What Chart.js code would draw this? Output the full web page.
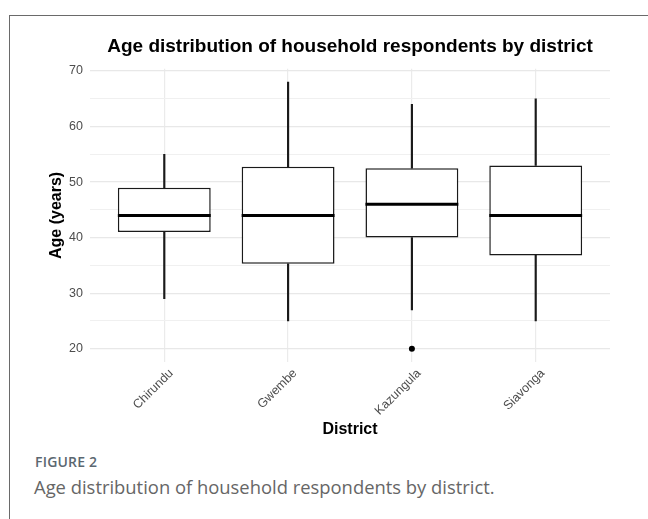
<!DOCTYPE html>
<html>
<head>
<meta charset="utf-8">
<script src="https://cdn.jsdelivr.net/npm/chart.js@4/dist/chart.umd.min.js"></script>
<style>
  html, body { margin: 0; padding: 0; background: #fff; }
  #wrap { position: relative; width: 648px; height: 519px; overflow: hidden; }
  #frame { position: absolute; left: 9px; top: 15px; right: -4px; bottom: -4px;
           border-left: 1.5px solid #6a6a6a; border-top: 1.5px solid #6a6a6a; }
  #c { position: absolute; left: 0; top: 0; }
  .fig { position: absolute; left: 35px; top: 452px; font-family: 'Open Sans', sans-serif;
         font-weight: 600; font-size: 14px; color: #5b6770; letter-spacing: 0.2px; }
  .cap { position: absolute; left: 34px; top: 474px; font-family: 'Open Sans', sans-serif;
         font-size: 18.4px; color: #666; }
</style>
</head>
<body>
<div id="wrap">
  <div id="frame"></div>
  <canvas id="c" width="648" height="450"></canvas>
  <div class="fig">FIGURE 2</div>
  <div class="cap">Age distribution of household respondents by district.</div>
</div>
<script>
// Box-plot summaries per district (age in years)
const districts = ['Chirundu', 'Gwembe', 'Kazungula', 'Siavonga'];
const whiskerLow = [29, 25, 27, 25];
const q1 = [41, 35.3, 40, 36.8];
const median = [44, 44, 46, 44];
const q3 = [49, 52.75, 52.5, 53];
const whiskerHigh = [55, 68, 64, 65];
const outlierDistrict = ['Kazungula'];
const outlierAge = [20];
const yTicks = [20, 25, 30, 35, 40, 45, 50, 55, 60, 65, 70];

const font = 'Liberation Sans, Arial, Helvetica, sans-serif';

// Thick median line across each box, positioned from the y scale
const medianLines = {
  id: 'medianLines',
  afterDatasetsDraw(chart) {
    const meta = chart.getDatasetMeta(0);
    const y = chart.scales.y;
    const ctx = chart.ctx;
    ctx.save();
    ctx.strokeStyle = '#000';
    ctx.lineWidth = 3;
    meta.data.forEach((bar, i) => {
      const py = y.getPixelForValue(median[i]);
      ctx.beginPath();
      ctx.moveTo(bar.x - bar.width / 2, py);
      ctx.lineTo(bar.x + bar.width / 2, py);
      ctx.stroke();
    });
    ctx.restore();
  }
};

const boxData = districts.map((d, i) => ({ x: i, y: [q1[i], q3[i]] }));
const upperWhisker = districts.map((d, i) => ({ x: i, y: [q3[i], whiskerHigh[i]] }));
const lowerWhisker = districts.map((d, i) => ({ x: i, y: [whiskerLow[i], q1[i]] }));
const outliers = outlierDistrict.map((d, i) => ({ x: districts.indexOf(d), y: outlierAge[i] }));

new Chart(document.getElementById('c'), {
  type: 'bar',
  data: {
    datasets: [
      { data: boxData, stack: 'box', backgroundColor: '#fff', borderColor: '#1a1a1a',
        borderWidth: 1.5, borderSkipped: false, barPercentage: 0.75, categoryPercentage: 1, order: 1 },
      { data: upperWhisker, stack: 'box', backgroundColor: '#1a1a1a', borderWidth: 0,
        barThickness: 1.5, order: 2 },
      { data: lowerWhisker, stack: 'box', backgroundColor: '#1a1a1a', borderWidth: 0,
        barThickness: 1.5, order: 2 },
      { type: 'line', data: outliers, showLine: false, pointRadius: 3,
        pointBackgroundColor: '#000', pointBorderColor: '#000', pointBorderWidth: 0, order: 0 }
    ]
  },
  options: {
    responsive: false,
    animation: false,
    layout: { padding: { left: 0, right: 38, top: 0, bottom: 0 } },
    plugins: {
      legend: { display: false },
      tooltip: { enabled: false },
      title: {
        display: true, fullSize: false,
        text: 'Age distribution of household respondents by district',
        color: '#000',
        font: { family: font, size: 19, weight: 'bold', lineHeight: 1.2 },
        padding: { top: 35, bottom: 11 }
      }
    },
    scales: {
      x: {
        type: 'linear', min: -0.6, max: 3.6, stacked: true, offset: false,
        afterBuildTicks(scale) { scale.ticks = districts.map((d, i) => ({ value: i })); },
        afterFit(scale) { scale.height = 88; },
        border: { display: false },
        grid: { color: '#ebebeb', lineWidth: 1.2, drawTicks: false, offset: false },
        ticks: {
          autoSkip: false, minRotation: 45, maxRotation: 45, padding: 4, labelOffset: 7,
          color: '#4d4d4d', font: { family: font, size: 12.5 },
          callback: (v) => districts[v]
        },
        title: {
          display: true, text: 'District', color: '#000',
          font: { family: font, size: 16, weight: 'bold', lineHeight: 1.2 },
          padding: { top: 0, bottom: 11 }
        }
      },
      y: {
        min: 17.6, max: 70.4, stacked: false,
        afterBuildTicks(scale) { scale.ticks = yTicks.map(v => ({ value: v })); },
        afterFit(scale) { scale.width = 90; },
        border: { display: false },
        grid: {
          drawTicks: false,
          color: (c) => (c.tick && c.tick.value % 10 === 0) ? '#e8e8e8' : '#f0f0f0',
          lineWidth: (c) => (c.tick && c.tick.value % 10 === 0) ? 1.2 : 1
        },
        ticks: {
          padding: 7, color: '#4d4d4d', font: { family: font, size: 12.5 },
          callback: (v) => (v % 10 === 0 ? String(v) : '')
        },
        title: {
          display: true, text: 'Age (years)', color: '#000',
          font: { family: font, size: 16, weight: 'bold', lineHeight: 1.2 },
          padding: { top: 47, bottom: 0 }
        }
      }
    }
  },
  plugins: [medianLines]
});
</script>
</body>
</html>
